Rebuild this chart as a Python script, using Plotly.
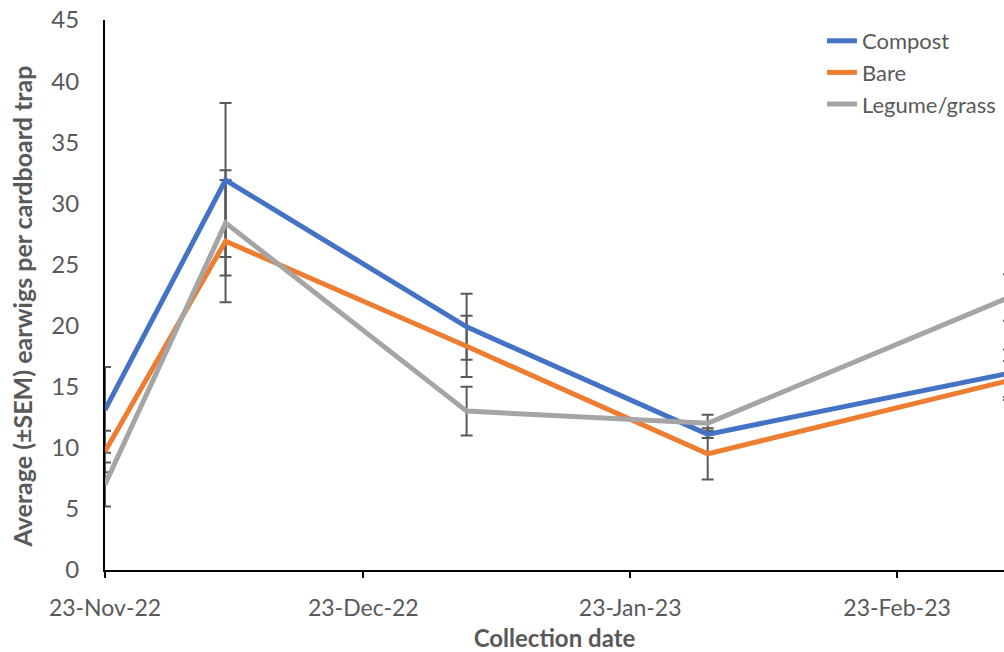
import plotly.graph_objects as go

# Collection dates and mean earwig counts (± SEM) per cardboard trap
dates = ["2022-11-23", "2022-12-07", "2023-01-04", "2023-02-01", "2023-03-08"]

compost = [13.1, 31.9, 19.9, 11.1, 16.1]
compost_sem = [3.5, 6.3, 2.7, 0.3, 1.95]

bare = [9.7, 26.9, 18.3, 9.5, 15.5]
bare_sem = [1.7, 5.0, 2.5, 2.1, 1.6]

legume = [7.0, 28.4, 13.0, 12.0, 22.3]
legume_sem = [1.8, 4.3, 2.0, 0.7, 1.9]

tick_dates = ["2022-11-23", "2022-12-23", "2023-01-23", "2023-02-23"]
tick_labels = ["23-Nov-22", "23-Dec-22", "23-Jan-23", "23-Feb-23"]

series = [
    ("Compost", compost, compost_sem, "#4472C4"),
    ("Bare", bare, bare_sem, "#ED7D31"),
    ("Legume/grass", legume, legume_sem, "#A5A5A5"),
]

FONT = "Lato, 'Open Sans', sans-serif"
TEXT = "#595959"

fig = go.Figure()

# Error bars first so the lines sit on top of them
for name, vals, sem, color in series:
    fig.add_trace(go.Scatter(
        x=dates, y=vals, mode="markers",
        marker=dict(size=1, color="rgba(0,0,0,0)"),
        error_y=dict(type="data", array=sem, visible=True,
                     color="#595959", thickness=2, width=6),
        showlegend=False, hoverinfo="skip",
    ))

for name, vals, sem, color in series:
    fig.add_trace(go.Scatter(
        x=dates, y=vals, mode="lines", name=name,
        line=dict(color=color, width=5),
    ))

fig.update_layout(
    width=1004, height=652,
    margin=dict(l=105, r=0, t=20, b=82),
    paper_bgcolor="white", plot_bgcolor="white",
    font=dict(family=FONT, color=TEXT),
    legend=dict(
        x=0.7975, y=1.0, xanchor="left", yanchor="top",
        font=dict(size=22, color=TEXT, family=FONT),
        bgcolor="rgba(0,0,0,0)", tracegroupgap=0,
    ),
    showlegend=True,
    annotations=[dict(
        text="<b>Average (±SEM) earwigs per cardboard trap</b>",
        textangle=-90, xref="paper", yref="paper",
        x=-0.0923, y=0.479, xanchor="center", yanchor="middle",
        showarrow=False, font=dict(size=25, color=TEXT, family=FONT),
    )],
)

fig.update_xaxes(
    type="date", range=["2022-11-23", "2023-03-07 10:00"],
    tickmode="array", tickvals=tick_dates, ticktext=tick_labels,
    ticks="outside", ticklen=6, tickwidth=2, tickcolor="black",
    showline=True, linecolor="black", linewidth=2,
    showgrid=False, zeroline=False,
    tickfont=dict(size=23, color=TEXT, family=FONT),
    ticklabelstandoff=10,
    title=dict(text="<b>Collection date</b>", standoff=16,
               font=dict(size=24, color=TEXT, family=FONT)),
)

fig.update_yaxes(
    range=[0, 45], dtick=5, tick0=0,
    ticks="", showline=True, linecolor="black", linewidth=2,
    showgrid=False, zeroline=False,
    tickfont=dict(size=24, color=TEXT, family=FONT),
    ticklabelstandoff=19,
)

fig.write_html("out.html")
